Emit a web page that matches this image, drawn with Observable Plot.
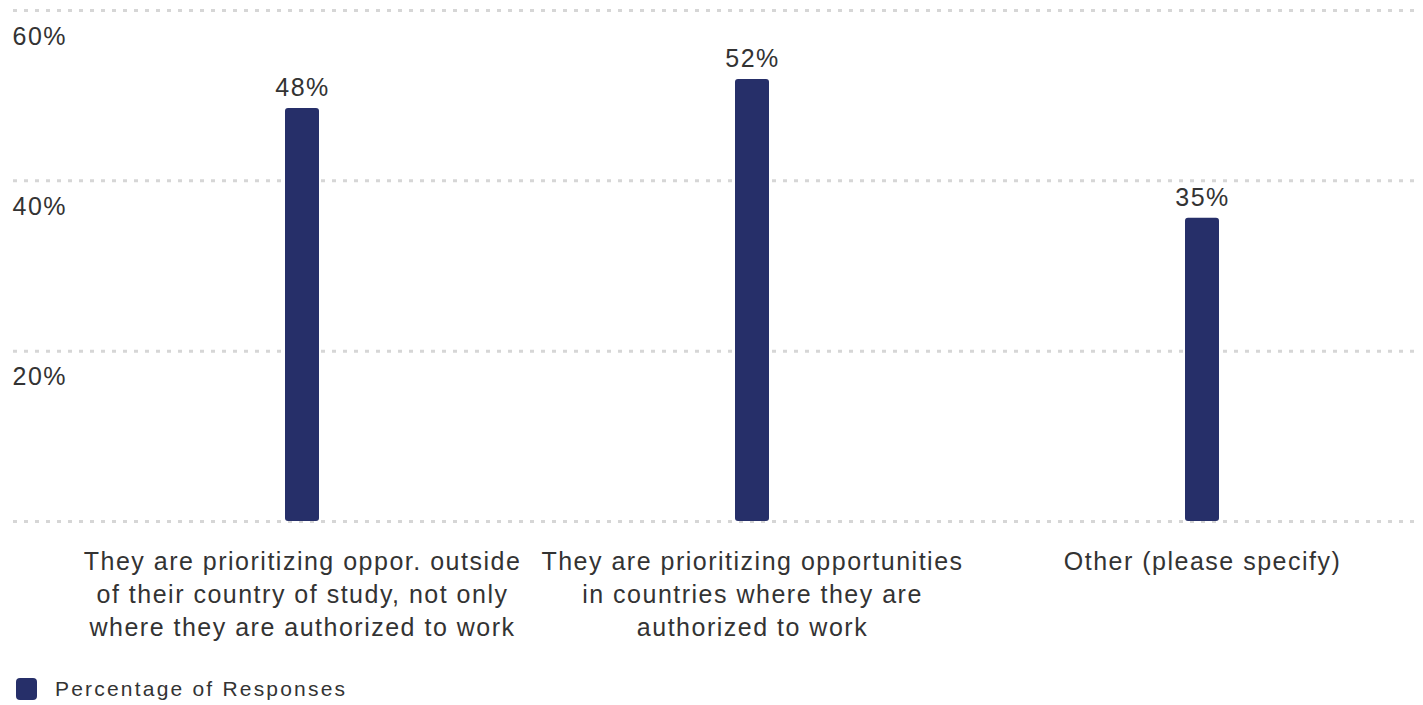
<!DOCTYPE html>
<html>
<head>
<meta charset="utf-8">
<script src="https://cdn.jsdelivr.net/npm/d3@7"></script>
<script src="https://cdn.jsdelivr.net/npm/@observablehq/plot@0.6"></script>
<style>
  html, body { margin: 0; padding: 0; background: #fff; }
  body { font-family: "Liberation Sans", Arial, sans-serif; color: #333; }
  #chart svg text { letter-spacing: 1.5px; }
  .legend { display: flex; align-items: center; margin-top: 23px; padding-left: 16px; height: 22px; }
  .legend .sw { width: 21px; height: 22px; border-radius: 4px; background: #262f69; }
  .legend .lb { margin-left: 18px; font-size: 21px; letter-spacing: 2.2px; color: #333; line-height: 22px; }
</style>
</head>
<body>
<div id="chart"></div>
<div class="legend"><div class="sw"></div><div class="lb" id="legendLabel"></div></div>
<script>
const categories = [
  "They are prioritizing oppor. outside of their country of study, not only where they are authorized to work",
  "They are prioritizing opportunities in countries where they are authorized to work",
  "Other (please specify)"
];
const categoryLabels = [
  "They are prioritizing oppor. outside\nof their country of study, not only\nwhere they are authorized to work",
  "They are prioritizing opportunities\nin countries where they are\nauthorized to work",
  "Other (please specify)"
];
const values = [48.5, 51.9, 35.6];
const valueLabels = ["48%", "52%", "35%"];
const yTicks = [0, 20, 40, 60];
const yTickLabels = ["", "20%", "40%", "60%"];
const seriesName = "Percentage of Responses";

const data = categories.map((c, i) => ({category: c, label: categoryLabels[i], value: values[i], valueLabel: valueLabels[i]}));
const ticks = yTicks.map((t, i) => ({t, label: yTickLabels[i]})).filter(d => d.label);

const barColor = "#262f69";
const textColor = "#333";

const chart = Plot.plot({
  width: 1423,
  height: 655,
  marginTop: 10,
  marginBottom: 134,
  marginLeft: 13,
  marginRight: 3,
  style: {fontFamily: "'Liberation Sans', Arial, sans-serif", fontSize: "25px", color: textColor, background: "#fff"},
  x: {domain: categories, range: [77, 1427], padding: 0, axis: null},
  y: {domain: [0, 60], axis: null},
  marks: [
    Plot.ruleY(yTicks, {stroke: "#d6d6d6", strokeWidth: 3, strokeDasharray: "4,7"}),
    Plot.text(ticks, {y: "t", text: "label", frameAnchor: "left", textAnchor: "start", dx: -1, dy: 26, fill: textColor, fontSize: 25}),
    Plot.barY(data, {x: "category", y: "value", fill: barColor, insetLeft: 208, insetRight: 208, rx: 3}),
    Plot.text(data, {x: "category", y: "value", text: "valueLabel", dy: -20, fill: textColor, fontSize: 25}),
    Plot.text(data, {x: "category", y: () => 0, text: "label", lineAnchor: "top", dy: 25, lineHeight: 1.32, fill: textColor, fontSize: 25})
  ]
});
document.getElementById("chart").appendChild(chart);
document.getElementById("legendLabel").textContent = seriesName;
</script>
</body>
</html>
